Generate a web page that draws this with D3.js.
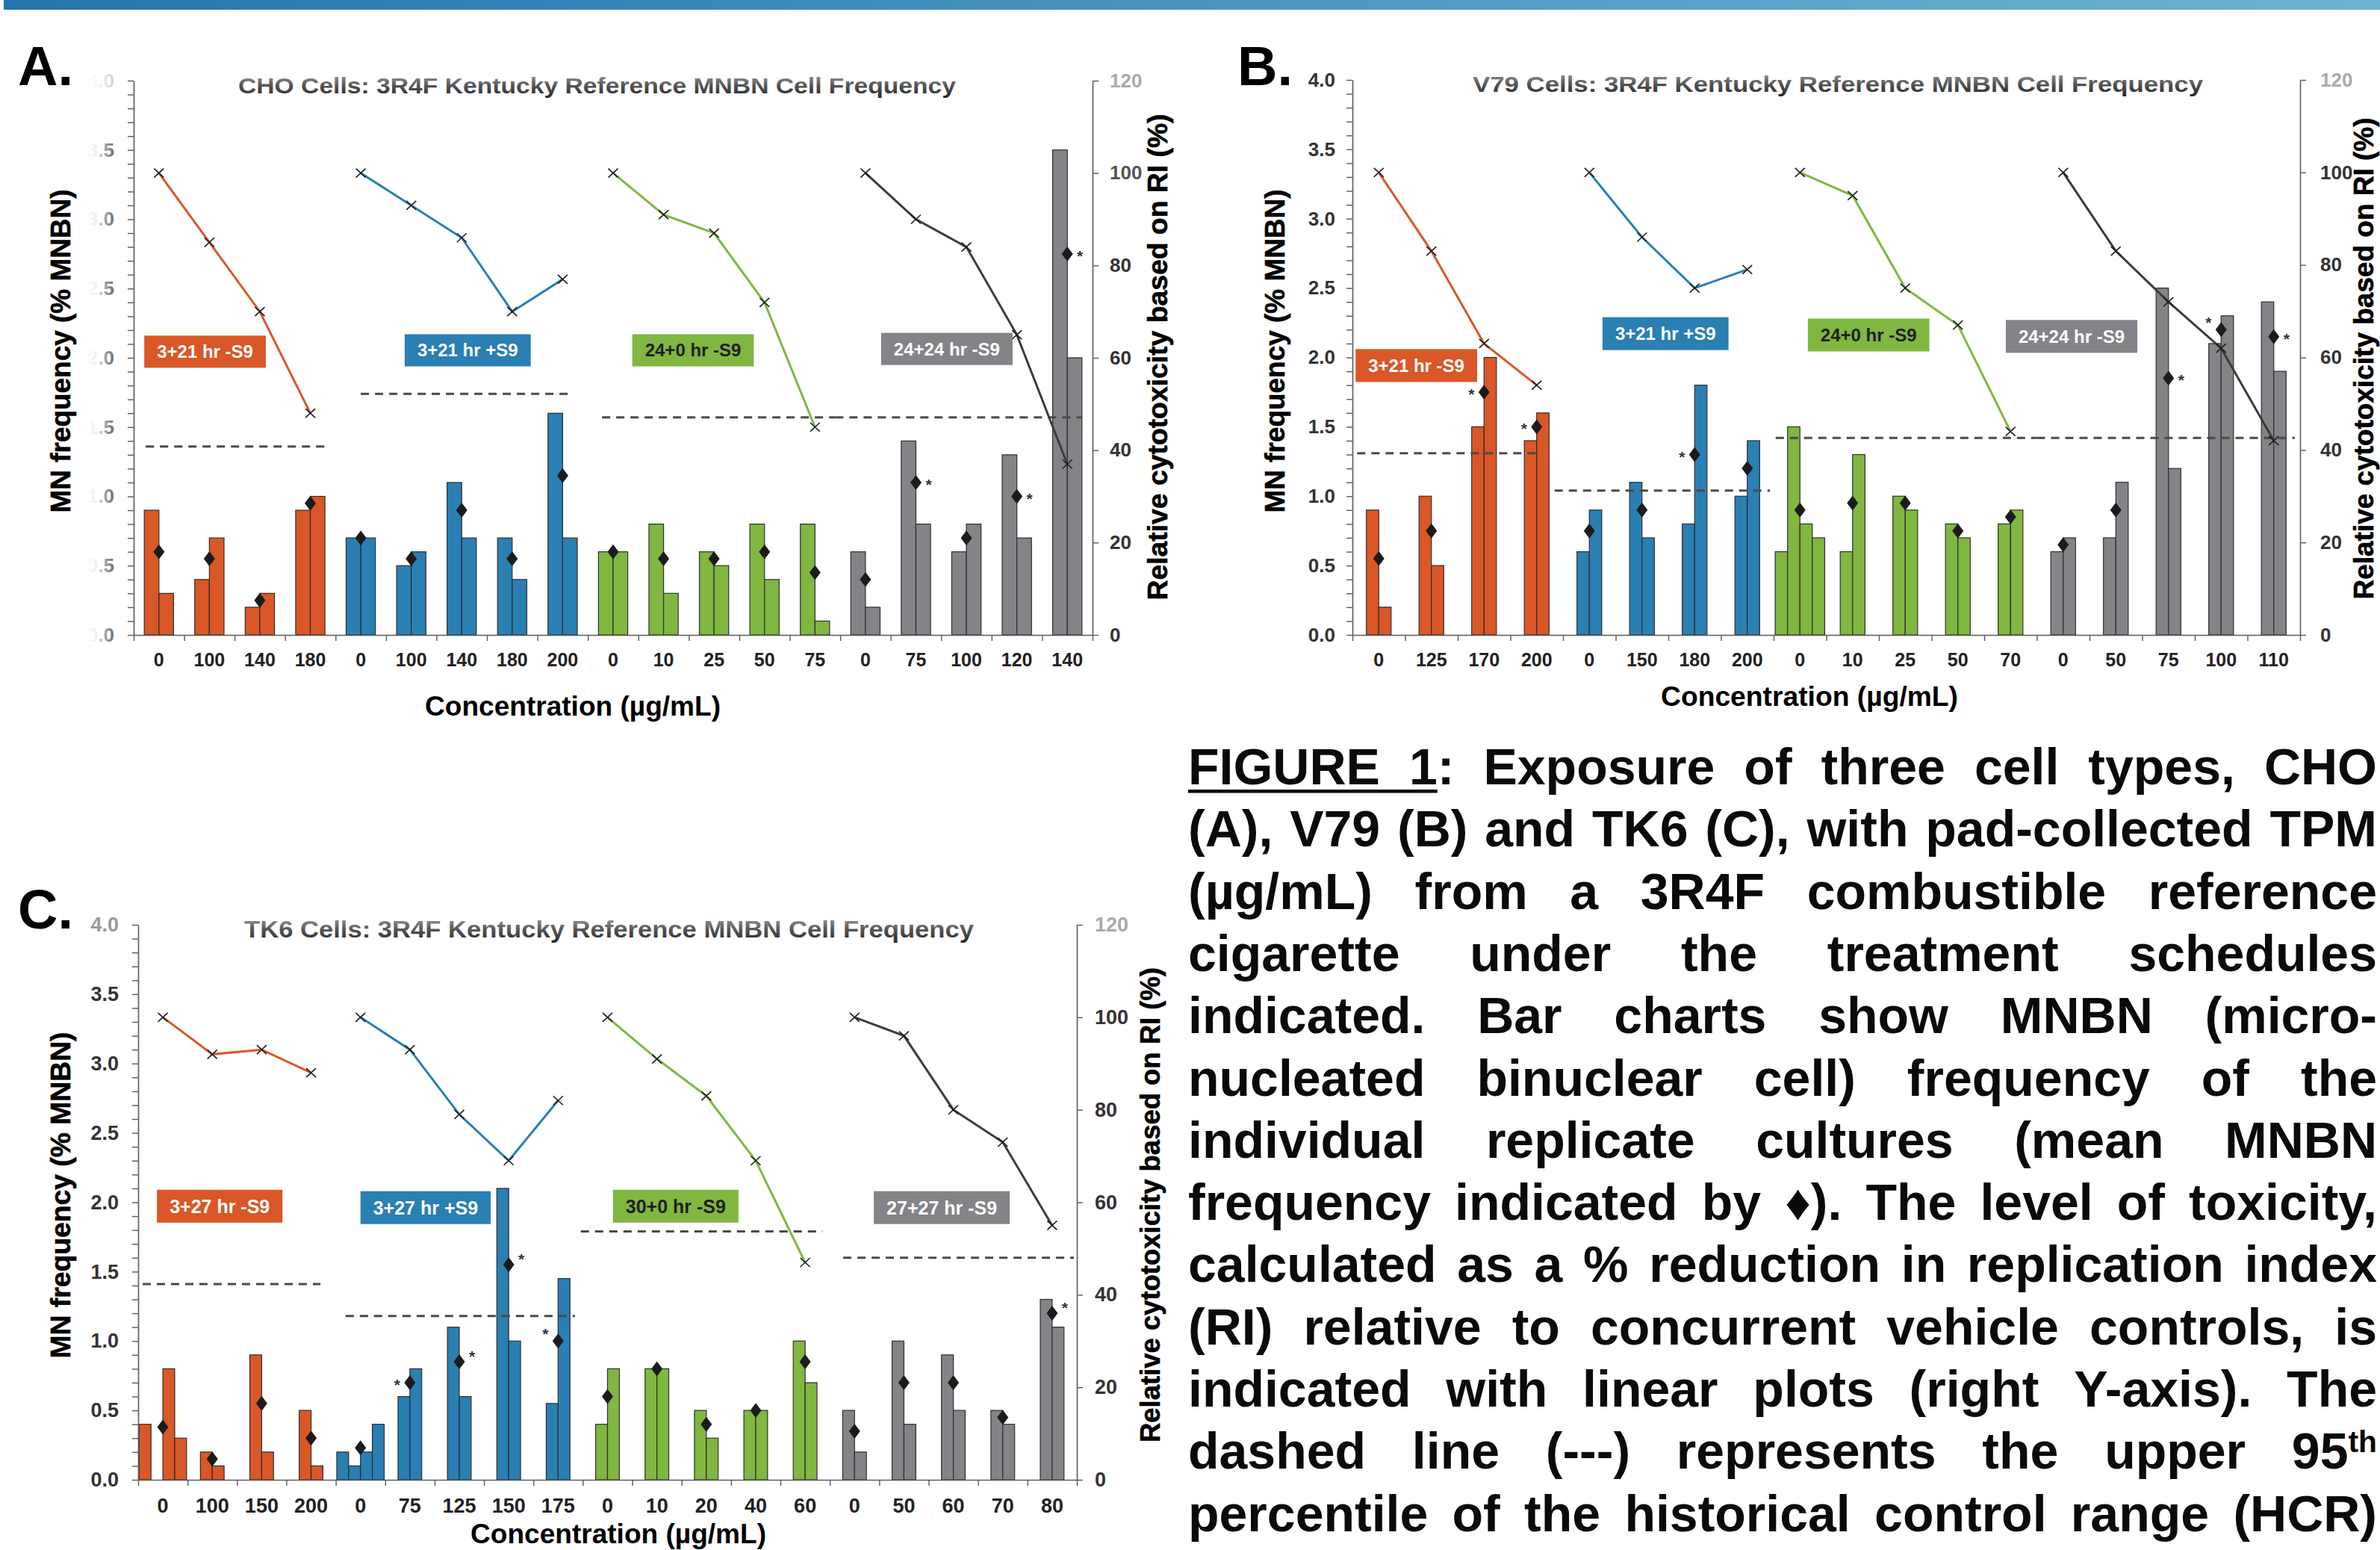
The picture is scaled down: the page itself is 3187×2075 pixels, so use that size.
<!DOCTYPE html>
<html>
<head>
<meta charset="utf-8">
<script src="https://cdn.jsdelivr.net/npm/d3@7/dist/d3.min.js"></script>
<style>
html,body{margin:0;padding:0;background:#fff;}
svg{display:block;}
</style>
</head>
<body>
<svg id="fig" width="3187" height="2075" viewBox="0 0 3187 2075"></svg>
<script>
// ================= DATA =================
// Panel A – CHO cells
const A_title = "CHO Cells: 3R4F Kentucky Reference MNBN Cell Frequency";
const A_schedules = ["3+21 hr -S9", "3+21 hr +S9", "24+0 hr -S9", "24+24 hr -S9"];
const A_conc = [["0","100","140","180"], ["0","100","140","180","200"], ["0","10","25","50","75"], ["0","75","100","120","140"]];
const A_reps = [
  [[0.9,0.3],[0.4,0.7],[0.2,0.3],[0.9,1.0]],
  [[0.7,0.7],[0.5,0.6],[1.1,0.7],[0.7,0.4],[1.6,0.7]],
  [[0.6,0.6],[0.8,0.3],[0.6,0.5],[0.8,0.4],[0.8,0.1]],
  [[0.6,0.2],[1.4,0.8],[0.6,0.8],[1.3,0.7],[3.5,2.0]]
];
const A_mean = [[0.60,0.55,0.25,0.95],[0.70,0.55,0.90,0.55,1.15],[0.60,0.55,0.55,0.60,0.45],[0.40,1.10,0.70,1.00,2.75]];
const A_sig = [["","","",""],["","","","",""],["","","","",""],["","R","","R","R"]];
const A_tox = [[100,85,70,48],[100,93,86,70,77],[100,91,87,72,45],[100,90,84,65,37]];
const A_hcr = [1.36, 1.74, 1.57, 1.57];

// Panel B – V79 cells
const B_title = "V79 Cells: 3R4F Kentucky Reference MNBN Cell Frequency";
const B_schedules = ["3+21 hr -S9", "3+21 hr +S9", "24+0 hr -S9", "24+24 hr -S9"];
const B_conc = [["0","125","170","200"], ["0","150","180","200"], ["0","10","25","50","70"], ["0","50","75","100","110"]];
const B_reps = [
  [[0.9,0.2],[1.0,0.5],[1.5,2.0],[1.4,1.6]],
  [[0.6,0.9],[1.1,0.7],[0.8,1.8],[1.0,1.4]],
  [[0.6,1.5,0.8,0.7],[0.6,1.3],[1.0,0.9],[0.8,0.7],[0.8,0.9]],
  [[0.6,0.7],[0.7,1.1],[2.5,1.2],[2.1,2.3],[2.4,1.9]]
];
const B_mean = [[0.55,0.75,1.75,1.50],[0.75,0.90,1.30,1.20],[0.90,0.95,0.95,0.75,0.85],[0.65,0.90,1.85,2.20,2.15]];
const B_sig = [["","","L","L"],["","","L",""],["","","","",""],["","","R","LU","R"]];
const B_tox = [[100,83,63,54],[100,86,75,79],[100,95,75,67,44],[100,83,72,62,42]];
const B_hcr = [1.31, 1.04, 1.42, 1.42];

// Panel C – TK6 cells
const C_title = "TK6 Cells: 3R4F Kentucky Reference MNBN Cell Frequency";
const C_schedules = ["3+27 hr -S9", "3+27 hr +S9", "30+0 hr -S9", "27+27 hr -S9"];
const C_conc = [["0","100","150","200"], ["0","75","125","150","175"], ["0","10","20","40","60"], ["0","50","60","70","80"]];
const C_reps = [
  [[0.4,null,0.8,0.3],[0.2,0.1],[0.9,0.2],[0.5,0.1]],
  [[0.2,0.1,0.2,0.4],[0.6,0.8],[1.1,0.6],[2.1,1.0],[0.55,1.45]],
  [[0.4,0.8],[0.8,0.8],[0.5,0.3],[0.5,0.5],[1.0,0.7]],
  [[0.5,0.2],[1.0,0.4],[0.9,0.5],[0.5,0.4],[1.3,1.1]]
];
const C_mean = [[0.38,0.15,0.55,0.30],[0.23,0.70,0.85,1.55,1.00],[0.60,0.80,0.40,0.50,0.85],[0.35,0.70,0.70,0.45,1.20]];
const C_sig = [["","","",""],["","L","RU","RU","LU"],["","","","",""],["","","","","RU"]];
const C_tox = [[100,92,93,88],[100,93,79,69,82],[100,91,83,69,47],[100,96,80,73,55]];
const C_hcr = [1.41, 1.18, 1.79, 1.60];

// Axis tick values / labels
const leftTicks = d3.range(0, 41).map(i => i / 10);   // 0.0 .. 4.0, labelled every 0.5
const rightTicks = [0, 20, 40, 60, 80, 100, 120];
const leftAxisTitle = "MN frequency (% MNBN)";
const rightAxisTitle = "Relative cytotoxicity based on RI (%)";
const xAxisTitle = "Concentration (\u00b5g/mL)";

const captionLines = [
  "FIGURE 1: Exposure of three cell types, CHO",
  "(A), V79 (B) and TK6 (C), with pad-collected TPM",
  "(\u00b5g/mL) from a 3R4F combustible reference",
  "cigarette under the treatment schedules",
  "indicated. Bar charts show MNBN (micro-",
  "nucleated binuclear cell) frequency of the",
  "individual replicate cultures (mean MNBN",
  "frequency indicated by \u2666). The level of toxicity,",
  "calculated as a % reduction in replication index",
  "(RI) relative to concurrent vehicle controls, is",
  "indicated with linear plots (right Y-axis). The",
  "dashed line (---) represents the upper 95th",
  "percentile of the historical control range (HCR)"
];

// ================= STYLE / LAYOUT =================
const FONT = "'Liberation Sans', Arial, Helvetica, sans-serif";
const barColors = ["#DA5727", "#2A7FB3", "#80B740", "#838487"];
const lineColors = ["#DA5727", "#2A7FB3", "#80B740", "#3C3C3C"];
const boxTextColors = ["#ffffff", "#ffffff", "#1e1e1e", "#ffffff"];

const LAYOUT = {
  A: {x0:179, x1:1463, yBase:850, yTop:108, barFrac:0.29,
      letter:{t:"A.", x:24, y:114}, title:{x0:319, x1:1280, y:125, size:30},
      leftTitle:{x:81, y:470, len:433}, rightTitle:{x:1550, y:478, len:651}, xTitle:{x:767, y:958, len:396},
      xLabelPad:24, xLabelSize:25, yLabelSize:26, leftPad:18, rightPad:15, boxFont:24, boxH:43,
      boxes:[[0.21,2.16],[5.37,2.17],[9.88,2.17],[14.81,2.18]],
      hcrSpan:[[0.24,3.83],[4.5,8.66],[9.28,13.9],[13.9,18.78]], fadeLeft:true},
  B: {x0:1811, x1:3080, yBase:850, yTop:107, barFrac:0.235,
      letter:{t:"B.", x:1657, y:114}, title:{x0:1972, x1:2950, y:123, size:30},
      leftTitle:{x:1707, y:470, len:433}, rightTitle:{x:3165, y:480, len:645}, xTitle:{x:2423, y:945, len:398},
      xLabelPad:24, xLabelSize:25, yLabelSize:26, leftPad:15, rightPad:19, boxFont:24, boxH:44,
      boxes:[[0.06,2.06],[4.75,2.29],[8.65,2.28],[12.41,2.27]],
      hcrSpan:[[0.09,3.6],[3.84,7.93],[8.04,13.0],[13.0,17.9]], fadeLeft:false},
  C: {x0:185, x1:1442, yBase:1981, yTop:1238, barFrac:0.24,
      letter:{t:"C.", x:24, y:1243}, title:{x0:327, x1:1304, y:1255, size:31},
      leftTitle:{x:81, y:1600, len:437}, rightTitle:{x:1540, y:1613, len:636}, xTitle:{x:828, y:2066, len:396},
      xLabelPad:25, xLabelSize:27, yLabelSize:27, leftPad:18, rightPad:16, boxFont:25, boxH:44,
      boxes:[[0.38,2.09],[4.50,2.08],[9.61,2.09],[14.89,2.08]],
      hcrSpan:[[0.09,3.69],[4.2,8.84],[8.96,13.85],[14.27,18.94]], fadeLeft:false}
};

const panels = [
  {L:LAYOUT.A, title:A_title, schedules:A_schedules, conc:A_conc, reps:A_reps, mean:A_mean, sig:A_sig, tox:A_tox, hcr:A_hcr},
  {L:LAYOUT.B, title:B_title, schedules:B_schedules, conc:B_conc, reps:B_reps, mean:B_mean, sig:B_sig, tox:B_tox, hcr:B_hcr},
  {L:LAYOUT.C, title:C_title, schedules:C_schedules, conc:C_conc, reps:C_reps, mean:C_mean, sig:C_sig, tox:C_tox, hcr:C_hcr}
];

// ================= DRAW =================
const svg = d3.select("#fig");
svg.append("rect").attr("width", 3187).attr("height", 2075).attr("fill", "#fff");
const defs = svg.append("defs");

const topGrad = defs.append("linearGradient").attr("id", "topGrad").attr("x1", 0).attr("x2", 1).attr("y1", 0).attr("y2", 0);
topGrad.append("stop").attr("offset", "0%").attr("stop-color", "#2476AF");
topGrad.append("stop").attr("offset", "100%").attr("stop-color", "#6DB3D3");
svg.append("rect").attr("x", 5).attr("y", 0).attr("width", 3182).attr("height", 13).attr("fill", "url(#topGrad)");

const titleGrad = defs.append("linearGradient").attr("id", "titleGrad").attr("x1", 0).attr("x2", 0).attr("y1", 0).attr("y2", 1);
titleGrad.append("stop").attr("offset", "0%").attr("stop-color", "#a0a0a0");
titleGrad.append("stop").attr("offset", "50%").attr("stop-color", "#555");
titleGrad.append("stop").attr("offset", "100%").attr("stop-color", "#262626");

// fade for panel A left tick labels (local coordinates of the axis group)
const fadeGrad = defs.append("linearGradient").attr("id", "fadeGrad").attr("gradientUnits", "userSpaceOnUse")
  .attr("x1", -62).attr("x2", -26).attr("y1", 0).attr("y2", 0);
fadeGrad.append("stop").attr("offset", "0%").attr("stop-color", "#ffffff");
fadeGrad.append("stop").attr("offset", "35%").attr("stop-color", "#eeeeee");
fadeGrad.append("stop").attr("offset", "55%").attr("stop-color", "#b8b8b8");
fadeGrad.append("stop").attr("offset", "100%").attr("stop-color", "#6a6a6a");
const fadeGradTop = defs.append("linearGradient").attr("id", "fadeGradTop").attr("gradientUnits", "userSpaceOnUse")
  .attr("x1", -62).attr("x2", -26).attr("y1", 0).attr("y2", 0);
fadeGradTop.append("stop").attr("offset", "0%").attr("stop-color", "#ffffff");
fadeGradTop.append("stop").attr("offset", "50%").attr("stop-color", "#f2f2f2");
fadeGradTop.append("stop").attr("offset", "100%").attr("stop-color", "#cfcfcf");

function drawPanel(p) {
  const L = p.L;
  const g = svg.append("g").attr("font-family", FONT).attr("font-weight", "bold");
  const cats = [];
  p.conc.forEach((arr, s) => arr.forEach((c, j) => cats.push({
    s, j, label: c, reps: p.reps[s][j], mean: p.mean[s][j], sig: p.sig[s][j], tox: p.tox[s][j]
  })));
  cats.forEach((c, i) => c.i = i);
  const n = cats.length;
  const x = d3.scaleBand().domain(d3.range(n)).range([L.x0, L.x1]).padding(0);
  const xl = d3.scaleLinear().domain([0, n]).range([L.x0, L.x1]);
  const yL = d3.scaleLinear().domain([0, 4]).range([L.yBase, L.yTop]);
  const yR = d3.scaleLinear().domain([0, 120]).range([L.yBase, L.yTop]);
  const cx = i => x(i) + x.bandwidth() / 2;
  const bw = x.bandwidth() * L.barFrac;

  // bars
  const bars = [];
  cats.forEach(c => {
    const m = c.reps.length;
    c.reps.forEach((v, k) => {
      if (v == null) return;
      bars.push({x: cx(c.i) + (k - m / 2) * bw, v, s: c.s});
    });
  });
  g.append("g").selectAll("rect").data(bars).join("rect")
    .attr("x", d => d.x).attr("width", bw)
    .attr("y", d => yL(d.v)).attr("height", d => yL(0) - yL(d.v))
    .attr("fill", d => barColors[d.s]).attr("stroke", "#2e2e2e").attr("stroke-width", 1.2);

  // axes
  const axL = d3.axisLeft(yL).tickValues(leftTicks).tickSize(8).tickSizeOuter(0).tickPadding(L.leftPad)
    .tickFormat(d => Math.abs(d * 2 - Math.round(d * 2)) < 1e-6 ? d.toFixed(1) : "");
  const gL = g.append("g").attr("transform", `translate(${L.x0},0)`).call(axL);
  const axR = d3.axisRight(yR).tickValues(rightTicks).tickSize(8).tickSizeOuter(0).tickPadding(L.rightPad)
    .tickFormat(d3.format("d"));
  const gR = g.append("g").attr("transform", `translate(${L.x1},0)`).call(axR);
  const axB = d3.axisBottom(xl).tickValues(d3.range(n + 1)).tickSize(8).tickSizeOuter(0).tickFormat("");
  const gB = g.append("g").attr("transform", `translate(0,${L.yBase})`).call(axB);
  const axBL = d3.axisBottom(x).tickSize(0).tickPadding(L.xLabelPad).tickFormat(i => cats[i].label);
  const gBL = g.append("g").attr("transform", `translate(0,${L.yBase})`).call(axBL);
  gBL.select(".domain").remove();
  [gL, gR, gB, gBL].forEach(a => {
    a.attr("font-family", FONT).attr("font-weight", "bold");
    a.selectAll(".domain").attr("stroke", "#5a5a5a").attr("stroke-width", 1.6);
    a.selectAll(".tick line").attr("stroke", "#5a5a5a").attr("stroke-width", 1.4);
  });
  gL.selectAll("text").attr("font-size", L.yLabelSize).attr("fill", "#333");
  gR.selectAll("text").attr("font-size", L.yLabelSize).attr("fill", "#333");
  gB.selectAll("text").remove();
  gBL.selectAll("text").attr("font-size", L.xLabelSize).attr("fill", "#222");
  gR.selectAll(".tick").filter(d => d === 120).select("text").attr("fill", "#aaa");
  if (L.fadeLeft) {
    gL.selectAll("text").attr("fill", "url(#fadeGrad)");
    gL.selectAll(".tick").filter(d => Math.abs(d - 4) < 1e-6).select("text").attr("fill", "url(#fadeGradTop)");
    gR.selectAll(".tick").filter(d => d === 100).select("text").attr("fill", "#555");
  } else if (L === LAYOUT.C) {
    gL.selectAll(".tick").filter(d => Math.abs(d - 4) < 1e-6).select("text").attr("fill", "#999");
  }

  // group starting indices
  const starts = [];
  let acc = 0;
  p.conc.forEach(a => { starts.push(acc); acc += a.length; });

  // HCR dashed lines
  p.hcr.forEach((h, s) => {
    const span = L.hcrSpan[s];
    g.append("line").attr("x1", xl(span[0])).attr("x2", xl(span[1]))
      .attr("y1", yL(h)).attr("y2", yL(h))
      .attr("stroke", "#4a4a4a").attr("stroke-width", 3).attr("stroke-dasharray", "11,8");
  });

  // cytotoxicity lines
  p.tox.forEach((arr, s) => {
    const pts = arr.map((v, j) => ({i: starts[s] + j, v}));
    g.append("path").datum(pts)
      .attr("d", d3.line().x(d => cx(d.i)).y(d => yR(d.v)))
      .attr("fill", "none").attr("stroke", lineColors[s]).attr("stroke-width", 3);
    g.append("g").selectAll("path").data(pts).join("path")
      .attr("transform", d => `translate(${cx(d.i)},${yR(d.v)})`)
      .attr("d", "M-6.5,-6L6.5,6M-6.5,6L6.5,-6")
      .attr("stroke", "#1e1e1e").attr("stroke-width", 1.6).attr("fill", "none");
  });

  // mean diamonds
  g.append("g").selectAll("path").data(cats).join("path")
    .attr("transform", d => `translate(${cx(d.i)},${yL(d.mean)})`)
    .attr("d", "M0,-10L7.5,0L0,10L-7.5,0Z").attr("fill", "#1b1b1b");

  // significance asterisks
  const sigOff = {R: [17, 0], L: [-17, 0], RU: [17, -10], LU: [-17, -12]};
  g.append("g").selectAll("text").data(cats.filter(c => c.sig)).join("text")
    .attr("x", d => cx(d.i) + sigOff[d.sig][0])
    .attr("y", d => yL(d.mean) + 10 + sigOff[d.sig][1])
    .attr("text-anchor", "middle").attr("font-size", 21).attr("fill", "#333").text("*");

  // schedule label boxes
  p.schedules.forEach((name, s) => {
    const b = L.boxes[s];
    const bx = xl(b[0]), by = yL(b[1]);
    const t = g.append("text").attr("font-size", L.boxFont).attr("fill", boxTextColors[s]).text(name);
    const tw = t.node().getComputedTextLength();
    const w = tw + 34;
    g.insert("rect", () => t.node()).attr("x", bx).attr("y", by).attr("width", w).attr("height", L.boxH)
      .attr("fill", barColors[s]);
    t.attr("x", bx + w / 2).attr("y", by + L.boxH / 2).attr("text-anchor", "middle").attr("dominant-baseline", "central");
  });

  // titles
  g.append("text").attr("x", L.title.x0).attr("y", L.title.y).attr("font-size", L.title.size)
    .attr("textLength", L.title.x1 - L.title.x0).attr("lengthAdjust", "spacingAndGlyphs")
    .attr("fill", "url(#titleGrad)").text(p.title);
  g.append("text").attr("x", L.letter.x).attr("y", L.letter.y).attr("font-size", 74).attr("fill", "#000").text(L.letter.t);
  g.append("text").attr("transform", `translate(${L.leftTitle.x},${L.leftTitle.y}) rotate(-90)`)
    .attr("text-anchor", "middle").attr("dominant-baseline", "central").attr("font-size", 37)
    .attr("textLength", L.leftTitle.len).attr("lengthAdjust", "spacingAndGlyphs")
    .attr("fill", "#000").attr("stroke", "#000").attr("stroke-width", 0.6).text(leftAxisTitle);
  g.append("text").attr("transform", `translate(${L.rightTitle.x},${L.rightTitle.y}) rotate(-90)`)
    .attr("text-anchor", "middle").attr("dominant-baseline", "central").attr("font-size", 37)
    .attr("textLength", L.rightTitle.len).attr("lengthAdjust", "spacingAndGlyphs")
    .attr("fill", "#000").attr("stroke", "#000").attr("stroke-width", 0.6).text(rightAxisTitle);
  g.append("text").attr("x", L.xTitle.x).attr("y", L.xTitle.y).attr("text-anchor", "middle").attr("font-size", 36)
    .attr("textLength", L.xTitle.len).attr("lengthAdjust", "spacingAndGlyphs").attr("fill", "#000").text(xAxisTitle);
}

panels.forEach(drawPanel);

// ================= CAPTION =================
(function drawCaption() {
  const X0 = 1591, X1 = 3183, F = 68, LH = 83.3, Y0 = 1050;
  const W = X1 - X0;
  const g = svg.append("g").attr("font-family", FONT).attr("font-weight", "bold").attr("font-size", F).attr("fill", "#0a0a0a");
  const lines = captionLines.map(line => line.split(" ").map(w => {
    const t = g.append("text").attr("x", 0).attr("y", 0);
    if (w === "95th") {
      t.text("95");
      t.append("tspan").attr("dy", -F * 0.33).attr("font-size", F * 0.6).text("th");
    } else {
      t.text(w);
    }
    return {t, w, len: t.node().getComputedTextLength()};
  }));
  const spaceW = F * 0.278;
  let sx = 1;
  lines.forEach(ws => {
    const nat = d3.sum(ws, e => e.len) + spaceW * (ws.length - 1);
    sx = Math.min(sx, W / nat);
  });
  lines.forEach((ws, li) => {
    const total = d3.sum(ws, e => e.len) * sx;
    const gap = ws.length > 1 ? (W - total) / (ws.length - 1) : 0;
    let xp = X0;
    const y = Y0 + li * LH;
    ws.forEach(e => {
      e.x = xp;
      e.t.attr("transform", `translate(${xp},${y}) scale(${sx},1)`);
      xp += e.len * sx + gap;
    });
    if (li === 0) {
      const w0 = ws[0], w1 = ws[1];
      const oneW = w1.t.node().getSubStringLength(0, 1) * sx;
      g.append("rect").attr("x", w0.x).attr("y", y + 7).attr("width", w1.x + oneW - w0.x).attr("height", 4.5).attr("fill", "#0a0a0a");
    }
  });
})();
</script>
</body>
</html>
